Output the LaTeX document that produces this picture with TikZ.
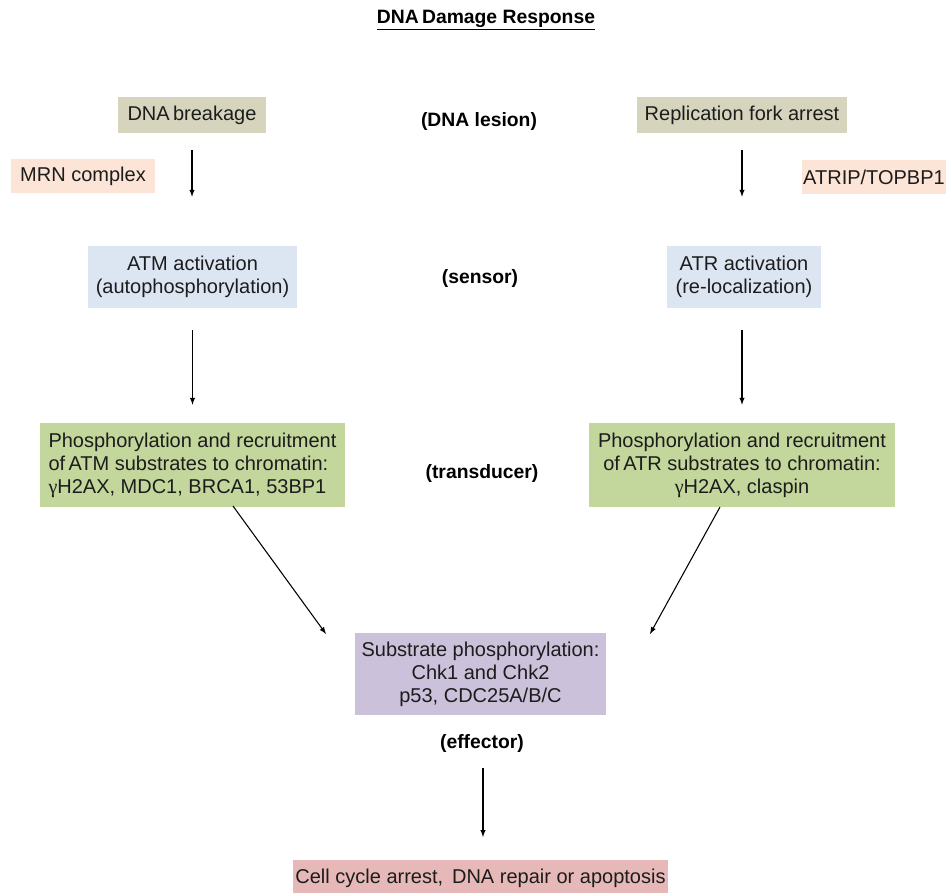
\documentclass[tikz,border=0pt]{standalone}
\usepackage{fontspec}
\setmainfont{Liberation Sans}
\newfontfamily\grk{Liberation Serif}
\usepackage{tikz}
\usetikzlibrary{arrows,calc}

\definecolor{lesion}{HTML}{D7D4BE}
\definecolor{helper}{HTML}{FCE4D6}
\definecolor{sensor}{HTML}{DCE6F2}
\definecolor{transd}{HTML}{C3D69B}
\definecolor{effect}{HTML}{CCC1DA}
\definecolor{fate}{HTML}{E6B9B8}
\definecolor{ink}{HTML}{1C1C1C}

\tikzset{
  box/.style={fill=#1,text=ink,inner sep=0pt,align=center,font=\fontsize{15}{17.3}\selectfont},
  lbl/.style={text=black,inner sep=0pt,font=\bfseries\fontsize{14.5}{16}\selectfont},
  arr/.style={-latex,line width=0.8pt,black}
}

\begin{document}
\begin{tikzpicture}[x=0.75pt,y=-0.75pt]
  \useasboundingbox (0,0) rectangle (949,892);
  \node[lbl](title)at(486,20){\underline{DNA\,Damage Response}};
  % lesion
  \node[box=lesion,minimum width=111pt,minimum height=27pt](dnab)at(192,115){DNA\,breakage};
  \node[box=lesion,minimum width=157.5pt,minimum height=27pt](fork)at(742,115){Replication fork arrest};
  \node[lbl](lesion)at(479,122){(DNA lesion)};
  \node[box=helper,minimum width=108pt,minimum height=25.5pt](mrn)at(83,176){MRN complex};
  \node[box=helper,minimum width=108pt,minimum height=25.5pt](atrip)at(874,177){ATRIP/TOPBP1};
  % sensor
  \node[box=sensor,minimum width=157pt,minimum height=46.5pt](atm)at(192.5,277){ATM activation\\(autophosphorylation)};
  \node[box=sensor,minimum width=116pt,minimum height=46.5pt](atr)at(744,277){ATR activation\\(re-localization)};
  \node[lbl](sens)at(480,278){(sensor)};
  % transducer
  \node[box=transd,minimum width=229pt,minimum height=63pt,align=left](gl)at(192.5,465){Phosphorylation and recruitment\\of\,ATM substrates to chromatin:\\{\grk γ}H2AX, MDC1, BRCA1, 53BP1};
  \node[box=transd,minimum width=229.5pt,minimum height=63pt](gr)at(742,465){Phosphorylation and recruitment\\of\,ATR substrates to chromatin:\\{\grk γ}H2AX, claspin};
  \node[lbl](trans)at(482,473){(transducer)};
  % effector
  \node[box=effect,minimum width=188pt,minimum height=61.5pt](sub)at(480.5,674){Substrate phosphorylation:\\Chk1 and Chk2\\p53, CDC25A/B/C};
  \node[lbl](eff)at(482,743){(effector)};
  \node[box=fate,minimum width=281pt,minimum height=27pt](out)at(480.5,878){Cell cycle arrest,\, DNA repair or apoptosis};

  \draw[arr,shorten <=12.75pt,shorten >=36.75pt](dnab)--(dnab|-atm.north);
  \draw[arr,shorten <=12.75pt,shorten >=36.75pt](fork)--(fork|-atr.north);
  \draw[arr,shorten <=16.5pt,shorten >=13.5pt](atm.south-|gl)--(gl);
  \draw[arr,shorten <=16.5pt,shorten >=13.5pt](atr.south-|gr)--(gr);
  \coordinate(l1)at(233,506);
  \coordinate(l2)at(326,634);
  \coordinate(r1)at(720,507);
  \coordinate(r2)at(650,634);
  \draw[arr](l1)--(l2);
  \draw[arr](r1)--(r2);
  \coordinate(e1)at(483,768);
  \coordinate(e2)at(483,837);
  \draw[arr](e1)--(e2);
\end{tikzpicture}
\end{document}
